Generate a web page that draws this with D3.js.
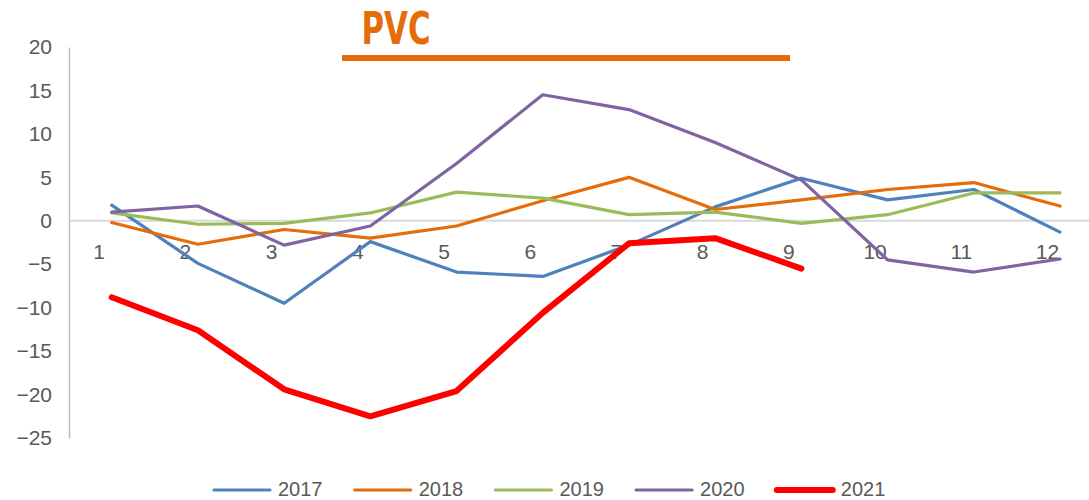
<!DOCTYPE html>
<html>
<head>
<meta charset="utf-8">
<script src="https://cdn.jsdelivr.net/npm/d3@7"></script>
<style>
  body { margin: 0; background: #fff; }
  svg { display: block; font-family: "Liberation Sans", Arial, sans-serif; }
</style>
</head>
<body>
<svg id="chart"></svg>
<script>
(function(){
    "use strict";

    // months on the category axis
    var months = [1, 2, 3, 4, 5, 6, 7, 8, 9, 10, 11, 12];
    var years = ["2017", "2018", "2019", "2020", "2021"];
    var yTicks = [20, 15, 10, 5, 0, -5, -10, -15, -20, -25];

    var v2017 = [1.8, -4.9, -9.5, -2.4, -5.9, -6.4, -2.8, 1.6, 4.9, 2.4, 3.6, -1.3];
    var v2018 = [-0.2, -2.7, -1.0, -2.0, -0.6, 2.3, 5.0, 1.3, 2.4, 3.6, 4.4, 1.7];
    var v2019 = [0.9, -0.4, -0.3, 0.9, 3.3, 2.6, 0.7, 1.0, -0.3, 0.7, 3.2, 3.2];
    var v2020 = [1.0, 1.7, -2.8, -0.6, 6.6, 14.5, 12.8, 9.0, 4.7, -4.5, -5.9, -4.4];
    var v2021 = [-8.8, -12.6, -19.4, -22.5, -19.6, -10.6, -2.6, -2.0, -5.5];

    var width = 1089,
        height = 500;

    var series = [
        {name: years[0], values: v2017, color: "#4f81bd", w: 3.2},
        {name: years[1], values: v2018, color: "#e46c0a", w: 3.2},
        {name: years[2], values: v2019, color: "#9bbb59", w: 3.2},
        {name: years[3], values: v2020, color: "#8064a2", w: 3.2},
        {name: years[4], values: v2021, color: "#ff0000", w: 6}
    ];

    var svg = d3.select("svg#chart")
        .attr("width", width)
        .attr("height", height);

    var x = d3.scalePoint().domain(months).range([111.7, 1060]);
    var y = d3.scaleLinear().domain([-25, 20]).range([438, 47]);

    // title with underline bar
    svg.append("text")
        .attr("x", 361.5)
        .attr("y", 44)
        .attr("textLength", 69)
        .attr("lengthAdjust", "spacingAndGlyphs")
        .style("font-family", "'Liberation Sans Narrow', 'DejaVu Sans Condensed', sans-serif")
        .style("font-weight", "bold")
        .style("font-size", "44px")
        .style("fill", "#e46c0a")
        .text("PVC");

    svg.append("rect")
        .attr("x", 342).attr("y", 55)
        .attr("width", 448).attr("height", 6)
        .attr("fill", "#e46c0a");

    // zero line
    svg.append("line")
        .attr("x1", 69).attr("x2", width)
        .attr("y1", y(0)).attr("y2", y(0))
        .attr("stroke", "#d9d9d9")
        .attr("stroke-width", 2);

    // y axis
    var yAxis = svg.append("g")
        .attr("transform", "translate(69,0)")
        .call(d3.axisLeft(y).tickValues(yTicks).tickSize(0).tickPadding(17));
    yAxis.select(".domain").attr("stroke", "#bfbfbf").attr("stroke-width", 1.5);
    yAxis.selectAll("text")
        .style("font-size", "21px")
        .style("fill", "#595959");

    // x axis labels (sit left of the points, like the original)
    var xAxis = svg.append("g")
        .attr("transform", "translate(-13," + y(0) + ")")
        .call(d3.axisBottom(x).tickSize(0).tickPadding(23));
    xAxis.select(".domain").remove();
    xAxis.selectAll("text")
        .style("font-size", "21px")
        .style("fill", "#595959");

    var line = d3.line()
        .x(function(d, i) { return x(months[i]); })
        .y(function(d) { return y(d); });

    svg.selectAll("path.series")
        .data(series)
        .enter().append("path")
        .attr("class", "series")
        .attr("fill", "none")
        .attr("stroke", function(d) { return d.color; })
        .attr("stroke-width", function(d) { return d.w; })
        .attr("stroke-linejoin", "round")
        .attr("stroke-linecap", "round")
        .attr("d", function(d) { return line(d.values); });

    // legend
    var legend = svg.selectAll("g.legend")
        .data(series)
        .enter().append("g")
        .attr("class", "legend")
        .attr("transform", function(d, i) { return "translate(" + (214 + i * 140.7) + ",490)"; });

    legend.append("line")
        .attr("x1", 0).attr("x2", 56)
        .attr("stroke", function(d) { return d.color; })
        .attr("stroke-width", function(d) { return d.w; })
        .attr("stroke-linecap", "round");

    legend.append("text")
        .attr("x", 64)
        .attr("y", 6)
        .style("font-size", "20px")
        .style("fill", "#595959")
        .text(function(d) { return d.name; });
})();
</script>
</body>
</html>
